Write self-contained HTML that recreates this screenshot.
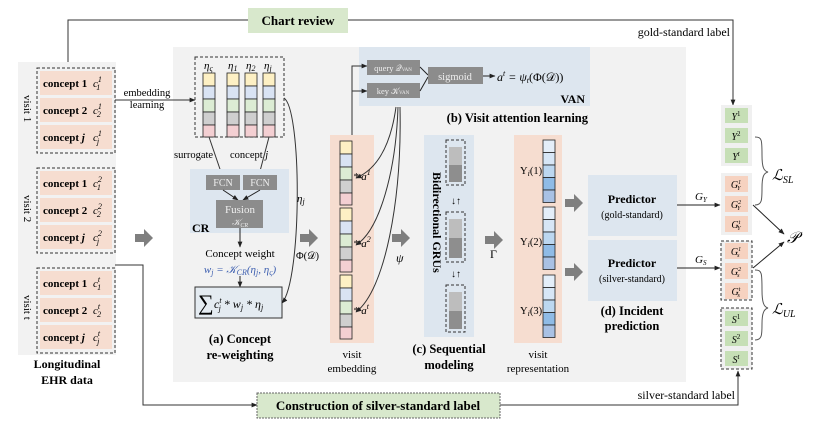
<!DOCTYPE html>
<html><head><meta charset="utf-8"><style>
html,body{margin:0;padding:0;background:#fff;}
svg{display:block;font-family:"Liberation Serif",serif;}
.b{font-weight:bold}
</style></head><body>
<svg width="830" height="425" viewBox="0 0 830 425" xmlns="http://www.w3.org/2000/svg">
<defs>
<marker id="ar" viewBox="0 0 10 10" refX="9" refY="5" markerWidth="6" markerHeight="6" orient="auto"><path d="M0,1 L10,5 L0,9 z" fill="#222"/></marker>
<g id="blk"><path d="M0,-4 h9 v-5 l9,9 l-9,9 v-5 h-9 z" fill="#7f7f7f"/></g>
<g id="col5">
<rect x="0" y="0" width="12" height="13" fill="#fdf0c4" stroke="#222" stroke-width="0.8"/>
<rect x="0" y="13" width="12" height="13" fill="#d9e3f3" stroke="#222" stroke-width="0.8"/>
<rect x="0" y="26" width="12" height="13" fill="#dcecd4" stroke="#222" stroke-width="0.8"/>
<rect x="0" y="39" width="12" height="13" fill="#cfcfcf" stroke="#222" stroke-width="0.8"/>
<rect x="0" y="52" width="12" height="12" fill="#f3cfd2" stroke="#222" stroke-width="0.8"/>
</g>
<g id="blue5">
<rect x="0" y="0" width="12" height="12.5" fill="#e4eef9" stroke="#222" stroke-width="0.8"/>
<rect x="0" y="12.5" width="12" height="12.5" fill="#d7e6f6" stroke="#222" stroke-width="0.8"/>
<rect x="0" y="25" width="12" height="12.5" fill="#bcd7f0" stroke="#222" stroke-width="0.8"/>
<rect x="0" y="37.5" width="12" height="12.5" fill="#8fbbe6" stroke="#222" stroke-width="0.8"/>
<rect x="0" y="50" width="12" height="12.5" fill="#a9c1e4" stroke="#222" stroke-width="0.8"/>
</g>
</defs>

<!-- main panels -->
<rect x="18" y="62" width="98" height="293" fill="#f2f2f2"/>
<rect x="173" y="47" width="513" height="335" fill="#f2f2f2"/>

<!-- chart review -->
<polyline points="68,62 68,20 248,20" fill="none" stroke="#333" stroke-width="1"/>
<polyline points="348,20 733,20 733,105" fill="none" stroke="#333" stroke-width="1" marker-end="url(#ar)"/>
<rect x="248" y="8" width="100" height="25" fill="#d8e8cc"/>
<text x="298" y="25" text-anchor="middle" class="b" font-size="13">Chart review</text>
<text x="730" y="36" text-anchor="end" font-size="12">gold-standard label</text>

<!-- visits -->
<g font-size="11">
<g>
<rect x="37" y="68" width="78" height="85" fill="none" stroke="#333" stroke-dasharray="3,2"/>
<rect x="40" y="71" width="72" height="24" fill="#f6ddd0"/><rect x="40" y="98" width="72" height="24" fill="#f6ddd0"/><rect x="40" y="125" width="72" height="24" fill="#f6ddd0"/>
<text x="43" y="87" class="b">concept 1</text><text x="43" y="114" class="b">concept 2</text><text x="43" y="141" class="b">concept <tspan font-style="italic">j</tspan></text>
<text x="93" y="87" font-style="italic">c<tspan font-size="8" dy="-5">1</tspan><tspan font-size="8" dx="-5" dy="8">1</tspan></text>
<text x="93" y="114" font-style="italic">c<tspan font-size="8" dy="-5">1</tspan><tspan font-size="8" dx="-5" dy="8">2</tspan></text>
<text x="93" y="141" font-style="italic">c<tspan font-size="8" dy="-5">1</tspan><tspan font-size="8" dx="-5" dy="8">j</tspan></text>
<text transform="translate(24,95) rotate(90)" font-size="11">visit 1</text>
</g>
<g transform="translate(0,100)">
<rect x="37" y="68" width="78" height="85" fill="none" stroke="#333" stroke-dasharray="3,2"/>
<rect x="40" y="71" width="72" height="24" fill="#f6ddd0"/><rect x="40" y="98" width="72" height="24" fill="#f6ddd0"/><rect x="40" y="125" width="72" height="24" fill="#f6ddd0"/>
<text x="43" y="87" class="b">concept 1</text><text x="43" y="114" class="b">concept 2</text><text x="43" y="141" class="b">concept <tspan font-style="italic">j</tspan></text>
<text x="93" y="87" font-style="italic">c<tspan font-size="8" dy="-5">2</tspan><tspan font-size="8" dx="-5" dy="8">1</tspan></text>
<text x="93" y="114" font-style="italic">c<tspan font-size="8" dy="-5">2</tspan><tspan font-size="8" dx="-5" dy="8">2</tspan></text>
<text x="93" y="141" font-style="italic">c<tspan font-size="8" dy="-5">2</tspan><tspan font-size="8" dx="-5" dy="8">j</tspan></text>
<text transform="translate(24,95) rotate(90)" font-size="11">visit 2</text>
</g>
<g transform="translate(0,200)">
<rect x="37" y="68" width="78" height="85" fill="none" stroke="#333" stroke-dasharray="3,2"/>
<rect x="40" y="71" width="72" height="24" fill="#f6ddd0"/><rect x="40" y="98" width="72" height="24" fill="#f6ddd0"/><rect x="40" y="125" width="72" height="24" fill="#f6ddd0"/>
<text x="43" y="87" class="b">concept 1</text><text x="43" y="114" class="b">concept 2</text><text x="43" y="141" class="b">concept <tspan font-style="italic">j</tspan></text>
<text x="93" y="87" font-style="italic">c<tspan font-size="8" dy="-5">t</tspan><tspan font-size="8" dx="-3" dy="8">1</tspan></text>
<text x="93" y="114" font-style="italic">c<tspan font-size="8" dy="-5">t</tspan><tspan font-size="8" dx="-3" dy="8">2</tspan></text>
<text x="93" y="141" font-style="italic">c<tspan font-size="8" dy="-5">t</tspan><tspan font-size="8" dx="-3" dy="8">j</tspan></text>
<text transform="translate(24,95) rotate(90)" font-size="11">visit t</text>
</g>
</g>
<text x="67" y="368" text-anchor="middle" class="b" font-size="12">Longitudinal</text>
<text x="67" y="384" text-anchor="middle" class="b" font-size="12">EHR data</text>

<!-- silver -->
<polyline points="115,265 143,265 143,405 257,405" fill="none" stroke="#333" marker-end="url(#ar)"/>
<polyline points="500,405 738,405 738,371" fill="none" stroke="#333" marker-end="url(#ar)"/>
<rect x="257" y="393" width="243" height="25" fill="#d8e8cc" stroke="#666" stroke-dasharray="2,1"/>
<text x="378" y="410" text-anchor="middle" class="b" font-size="13">Construction of silver-standard label</text>
<text x="735" y="399" text-anchor="end" font-size="12">silver-standard label</text>

<!-- embedding -->
<line x1="115" y1="100" x2="195" y2="100" stroke="#333" marker-end="url(#ar)"/>
<text x="147" y="96" text-anchor="middle" font-size="10.5">embedding</text>
<text x="147" y="108" text-anchor="middle" font-size="10.5">learning</text>
<rect x="195" y="57" width="89" height="80" fill="none" stroke="#333" stroke-dasharray="3,2"/>
<use href="#col5" x="203" y="73"/><use href="#col5" x="227" y="73"/><use href="#col5" x="245" y="73"/><use href="#col5" x="263" y="73"/>
<g font-style="italic" font-size="11"><text x="204" y="69">η<tspan font-size="8" dy="2">ς</tspan></text><text x="228" y="69">η<tspan font-size="8" dy="2">1</tspan></text><text x="246" y="69">η<tspan font-size="8" dy="2">2</tspan></text><text x="264" y="69">η<tspan font-size="8" dy="2">j</tspan></text></g>
<line x1="209" y1="137" x2="222" y2="175" stroke="#333" marker-end="url(#ar)"/>
<line x1="269" y1="137" x2="259" y2="175" stroke="#333" marker-end="url(#ar)"/>
<text x="174" y="158" font-size="10.5">surrogate</text>
<text x="230" y="158" font-size="10.5">concept <tspan font-style="italic">j</tspan></text>
<rect x="190" y="169" width="99" height="64" fill="#dde6ef"/>
<rect x="206" y="175" width="34" height="15" fill="#8c8c8c"/><rect x="243" y="175" width="34" height="15" fill="#8c8c8c"/>
<text x="223" y="186" text-anchor="middle" fill="#eee" font-size="10">FCN</text><text x="260" y="186" text-anchor="middle" fill="#eee" font-size="10">FCN</text>
<line x1="223" y1="190" x2="238" y2="200" stroke="#222" marker-end="url(#ar)"/><line x1="260" y1="190" x2="243" y2="200" stroke="#222" marker-end="url(#ar)"/>
<rect x="216" y="200" width="47" height="28" fill="#8c8c8c"/>
<text x="240" y="213" text-anchor="middle" fill="#eee" font-size="11">Fusion</text>
<text x="240" y="225" text-anchor="middle" fill="#eee" font-size="9" font-style="italic">𝒦<tspan font-size="6" dy="2">CR</tspan></text>
<text x="192" y="232" class="b" font-size="12">CR</text>
<line x1="240" y1="228" x2="240" y2="247" stroke="#222" marker-end="url(#ar)"/>
<text x="240" y="257" text-anchor="middle" font-size="11">Concept weight</text>
<text x="240" y="273" text-anchor="middle" font-size="11" fill="#3d5fb0" font-style="italic">w<tspan font-size="8" dy="2">j</tspan><tspan dy="-2"> = 𝒦</tspan><tspan font-size="8" dy="2">CR</tspan><tspan dy="-2">(η</tspan><tspan font-size="8" dy="2">j</tspan><tspan dy="-2">, η</tspan><tspan font-size="8" dy="2">ς</tspan><tspan dy="-2">)</tspan></text>
<line x1="240" y1="276" x2="240" y2="287" stroke="#222" marker-end="url(#ar)"/>
<rect x="195" y="287" width="87" height="31" fill="#e4ebf1" stroke="#333"/>
<text x="198" y="310" font-size="22">∑</text>
<text x="214" y="308" font-size="12" font-style="italic">c<tspan font-size="8" dy="-5">t</tspan><tspan font-size="8" dx="-3" dy="8">j</tspan><tspan dy="-3"> * w</tspan><tspan font-size="8" dy="2">j</tspan><tspan dy="-2"> * η</tspan><tspan font-size="8" dy="2">j</tspan></text>
<path d="M284,98 C302,110 302,280 282,303" fill="none" stroke="#333" marker-end="url(#ar)"/>
<text x="297" y="202" font-size="11" font-style="italic">η<tspan font-size="8" dy="2">j</tspan></text>
<text x="296" y="259" font-size="10.5">Φ(𝒟)</text>
<text x="240" y="343" text-anchor="middle" class="b" font-size="12.5">(a) Concept</text>
<text x="240" y="359" text-anchor="middle" class="b" font-size="12.5">re-weighting</text>

<!-- block arrows -->
<use href="#blk" x="135" y="238"/><use href="#blk" x="300" y="238"/><use href="#blk" x="392" y="238"/><use href="#blk" x="485" y="240"/><use href="#blk" x="565" y="203"/><use href="#blk" x="565" y="272"/>

<!-- visit embedding -->
<rect x="330" y="135" width="44" height="208" fill="#f6ddd0"/>
<use href="#col5" x="340" y="141"/><use href="#col5" x="340" y="208"/><use href="#col5" x="340" y="275"/>
<g font-size="11" font-style="italic"><text x="353" y="180">* a<tspan font-size="8" dy="-5">1</tspan></text><text x="353" y="247">* a<tspan font-size="8" dy="-5">2</tspan></text><text x="353" y="314">* a<tspan font-size="8" dy="-5">t</tspan></text></g>
<text x="352" y="358" text-anchor="middle" font-size="11">visit</text>
<text x="352" y="372" text-anchor="middle" font-size="11">embedding</text>

<!-- VAN -->
<rect x="359" y="47" width="231" height="59" fill="#dde6ef"/>
<polyline points="352,135 352,66 367,66" fill="none" stroke="#333" marker-end="url(#ar)"/>
<polyline points="352,91 367,91" fill="none" stroke="#333" marker-end="url(#ar)"/>
<rect x="367" y="60" width="53" height="15" fill="#8c8c8c"/><rect x="367" y="83" width="53" height="15" fill="#8c8c8c"/>
<text x="393" y="71" text-anchor="middle" fill="#eee" font-size="8.5">query 𝒬<tspan font-size="5">VAN</tspan></text>
<text x="393" y="94" text-anchor="middle" fill="#eee" font-size="8.5">key 𝒦<tspan font-size="5">VAN</tspan></text>
<line x1="420" y1="67" x2="428" y2="75" stroke="#222"/><line x1="420" y1="91" x2="428" y2="77" stroke="#222"/>
<rect x="428" y="67" width="55" height="17" fill="#8c8c8c"/>
<text x="455" y="80" text-anchor="middle" fill="#eee" font-size="10.5">sigmoid</text>
<line x1="483" y1="76" x2="495" y2="76" stroke="#222" marker-end="url(#ar)"/>
<text x="497" y="81" font-size="12" font-style="italic">a<tspan font-size="8" dy="-5">t</tspan><tspan dy="5"> =  ψ</tspan><tspan font-size="8" dy="2">t</tspan><tspan dy="-2" font-style="normal">(Φ(𝒟))</tspan></text>
<text x="585" y="103" text-anchor="end" class="b" font-size="12">VAN</text>
<text x="588" y="122" text-anchor="end" class="b" font-size="12.5">(b) Visit attention learning</text>
<g fill="none" stroke="#333"><path d="M396,107 C390,150 375,170 356,178" marker-end="url(#ar)"/><path d="M398,107 C396,170 380,230 356,245" marker-end="url(#ar)"/><path d="M400,107 C402,200 385,290 356,312" marker-end="url(#ar)"/></g>
<text x="396" y="262" font-size="12" font-style="italic">ψ</text>

<!-- GRU -->
<rect x="424" y="135" width="50" height="202" fill="#dde6ef"/>
<text transform="translate(433,172) rotate(90)" class="b" font-size="12">Bidirectional GRUs</text>
<g>
<rect x="446" y="140" width="19" height="45" fill="none" stroke="#333" stroke-dasharray="3,2"/><rect x="449" y="147" width="13" height="18" fill="#bdbdbd"/><rect x="449" y="165" width="13" height="17" fill="#8e8e8e"/>
<rect x="446" y="212" width="19" height="50" fill="none" stroke="#333" stroke-dasharray="3,2"/><rect x="449" y="219" width="13" height="19" fill="#bdbdbd"/><rect x="449" y="238" width="13" height="20" fill="#8e8e8e"/>
<rect x="446" y="285" width="19" height="47" fill="none" stroke="#333" stroke-dasharray="3,2"/><rect x="449" y="292" width="13" height="19" fill="#bdbdbd"/><rect x="449" y="311" width="13" height="18" fill="#8e8e8e"/>
</g>
<text x="456" y="204" text-anchor="middle" font-size="10">↓↑</text>
<text x="456" y="277" text-anchor="middle" font-size="10">↓↑</text>
<text x="449" y="353" text-anchor="middle" class="b" font-size="12.5">(c) Sequential</text>
<text x="449" y="369" text-anchor="middle" class="b" font-size="12.5">modeling</text>
<text x="490" y="258" font-size="12">Γ</text>

<!-- visit representation -->
<rect x="514" y="135" width="48" height="208" fill="#f6ddd0"/>
<use href="#blue5" x="543" y="140"/><use href="#blue5" x="543" y="207"/><use href="#blue5" x="543" y="275"/>
<g font-size="10.5"><text x="520" y="174">Υ<tspan font-style="italic" font-size="8" dy="2">i</tspan><tspan dy="-2">(1)</tspan></text><text x="520" y="245">Υ<tspan font-style="italic" font-size="8" dy="2">i</tspan><tspan dy="-2">(2)</tspan></text><text x="520" y="314">Υ<tspan font-style="italic" font-size="8" dy="2">i</tspan><tspan dy="-2">(3)</tspan></text></g>
<text x="538" y="358" text-anchor="middle" font-size="11">visit</text>
<text x="538" y="372" text-anchor="middle" font-size="11">representation</text>

<!-- predictors -->
<rect x="588" y="175" width="89" height="61" fill="#dde6ef"/><rect x="588" y="240" width="89" height="61" fill="#dde6ef"/>
<text x="632" y="203" text-anchor="middle" class="b" font-size="12">Predictor</text><text x="632" y="218" text-anchor="middle" font-size="10">(gold-standard)</text>
<text x="632" y="267" text-anchor="middle" class="b" font-size="12">Predictor</text><text x="632" y="282" text-anchor="middle" font-size="10">(silver-standard)</text>
<text x="632" y="315" text-anchor="middle" class="b" font-size="12.5">(d) Incident</text>
<text x="632" y="330" text-anchor="middle" class="b" font-size="12.5">prediction</text>
<line x1="677" y1="205" x2="720" y2="205" stroke="#222" marker-end="url(#ar)"/>
<line x1="677" y1="268" x2="720" y2="268" stroke="#222" marker-end="url(#ar)"/>
<text x="695" y="200" font-size="11" font-style="italic">G<tspan font-size="7" dy="2">Y</tspan></text>
<text x="695" y="263" font-size="11" font-style="italic">G<tspan font-size="7" dy="2">S</tspan></text>

<!-- right column -->
<rect x="721" y="105" width="31" height="61" fill="#f0f0f0"/>
<rect x="721" y="173" width="31" height="62" fill="#f0f0f0"/>
<rect x="721" y="241" width="31" height="59" fill="#f0f0f0" stroke="#333" stroke-dasharray="3,2"/>
<rect x="721" y="308" width="31" height="61" fill="#f0f0f0" stroke="#333" stroke-dasharray="3,2"/>
<g font-size="10" font-style="italic" text-anchor="middle">
<rect x="725" y="108" width="23" height="15" fill="#c6dfb6"/><text x="736" y="120">Y<tspan font-size="7" dy="-4" font-style="normal">1</tspan></text>
<rect x="725" y="128" width="23" height="15" fill="#c6dfb6"/><text x="736" y="140">Y<tspan font-size="7" dy="-4" font-style="normal">2</tspan></text>
<rect x="725" y="148" width="23" height="15" fill="#c6dfb6"/><text x="736" y="160">Y<tspan font-size="7" dy="-4">t</tspan></text>
<rect x="725" y="176" width="23" height="16" fill="#f6d2c0"/><text x="736" y="188">G<tspan font-size="6" dy="-4">1</tspan><tspan font-size="6" dx="-4" dy="6">Y</tspan></text>
<rect x="725" y="196" width="23" height="16" fill="#f6d2c0"/><text x="736" y="208">G<tspan font-size="6" dy="-4">2</tspan><tspan font-size="6" dx="-4" dy="6">Y</tspan></text>
<rect x="725" y="216" width="23" height="16" fill="#f6d2c0"/><text x="736" y="228">G<tspan font-size="6" dy="-4">t</tspan><tspan font-size="6" dx="-3" dy="6">Y</tspan></text>
<rect x="725" y="243" width="23" height="16" fill="#f6d2c0"/><text x="736" y="255">G<tspan font-size="6" dy="-4">1</tspan><tspan font-size="6" dx="-4" dy="6">s</tspan></text>
<rect x="725" y="263" width="23" height="16" fill="#f6d2c0"/><text x="736" y="275">G<tspan font-size="6" dy="-4">2</tspan><tspan font-size="6" dx="-4" dy="6">s</tspan></text>
<rect x="725" y="283" width="23" height="16" fill="#f6d2c0"/><text x="736" y="295">G<tspan font-size="6" dy="-4">t</tspan><tspan font-size="6" dx="-3" dy="6">s</tspan></text>
<rect x="725" y="311" width="23" height="15" fill="#c6dfb6"/><text x="736" y="323">S<tspan font-size="7" dy="-4" font-style="normal">1</tspan></text>
<rect x="725" y="331" width="23" height="15" fill="#c6dfb6"/><text x="736" y="343">S<tspan font-size="7" dy="-4" font-style="normal">2</tspan></text>
<rect x="725" y="351" width="23" height="15" fill="#c6dfb6"/><text x="736" y="363">S<tspan font-size="7" dy="-4">t</tspan></text>
</g>
<g fill="none" stroke="#555"><path d="M755,137 C762,137 762,140 762,155 C762,168 764,171 768,172 C764,173 762,176 762,188 C762,200 762,205 755,205"/>
<path d="M755,270 C762,270 762,273 762,290 C762,303 764,307 768,308 C764,309 762,313 762,324 C762,335 762,340 755,340"/></g>
<line x1="753" y1="205" x2="784" y2="234" stroke="#222" marker-end="url(#ar)"/>
<line x1="753" y1="268" x2="784" y2="242" stroke="#222" marker-end="url(#ar)"/>
<text x="772" y="180" font-size="15" font-style="italic">ℒ<tspan font-size="10" dy="3">SL</tspan></text>
<text x="787" y="243" font-size="16" font-style="italic">𝒫</text>
<text x="772" y="314" font-size="15" font-style="italic">ℒ<tspan font-size="10" dy="3">UL</tspan></text>
</svg>
</body></html>
